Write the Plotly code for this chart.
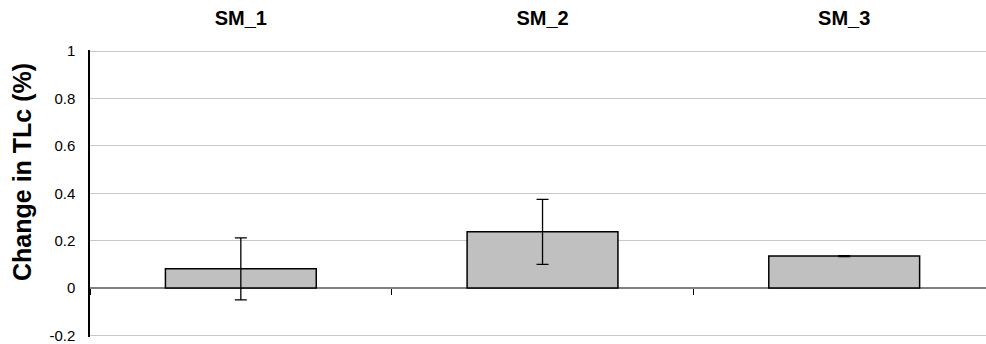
import plotly.graph_objects as go

categories = ["SM_1", "SM_2", "SM_3"]
values = [0.081, 0.237, 0.135]
errors = [0.131, 0.137, 0.002]
y_ticks = [-0.2, 0, 0.2, 0.4, 0.6, 0.8, 1]
y_tick_text = ["-0.2", "0", "0.2", "0.4", "0.6", "0.8", "1"]
y_title = "Change in TLc (%)"

fig = go.Figure()
fig.add_trace(go.Bar(
    x=categories, y=values, width=0.5,
    marker=dict(color="#c0c0c0", line=dict(color="black", width=1.5)),
    error_y=dict(type="data", array=errors, visible=True, color="black",
                 thickness=1.3, width=6),
    showlegend=False,
))
# invisible helper trace carrying the category-boundary ticks on the zero line
fig.add_trace(go.Scatter(x=categories, y=values, xaxis="x2", mode="markers",
                         marker=dict(opacity=0), showlegend=False, hoverinfo="skip"))

font_family = "Liberation Sans, Arial, sans-serif"
y_lo, y_hi = -0.207, 1.005
fig.update_layout(
    template="none",
    width=986, height=344,
    margin=dict(l=90, r=0, t=50, b=7),
    paper_bgcolor="white", plot_bgcolor="white",
    font=dict(family=font_family, color="black"),
    xaxis=dict(
        type="category", range=[-0.5, 2.47], side="top",
        showline=False, ticks="", showgrid=False, zeroline=False,
        tickfont=dict(size=20, family=font_family, weight="bold"),
        ticklabelstandoff=20,
    ),
    xaxis2=dict(
        type="category", overlaying="x", matches="x",
        anchor="free", position=(0 - y_lo) / (y_hi - y_lo),
        showline=False, showgrid=False, zeroline=False, showticklabels=False,
        ticks="outside", tickson="boundaries", ticklen=6, tickcolor="black", tickwidth=1,
    ),
    yaxis=dict(
        range=[y_lo, y_hi], tickvals=y_ticks, ticktext=y_tick_text,
        showgrid=True, gridcolor="#c8c8c8", gridwidth=1,
        zeroline=True, zerolinecolor="#808080", zerolinewidth=1.5,
        showline=True, linecolor="black", linewidth=1.5,
        ticks="", ticklen=0, tickwidth=0, tickcolor="rgba(0,0,0,0)",
        tickfont=dict(size=15), ticklabeloverflow="allow", ticklabelstandoff=10,
    ),
    annotations=[dict(
        text=y_title, textangle=-90, xref="paper", yref="paper",
        x=-90 / 896 + 22 / 896, y=0.575, xanchor="center", yanchor="middle",
        showarrow=False, font=dict(size=25, weight="bold", family=font_family),
    )],
)

fig.write_html("out.html")
